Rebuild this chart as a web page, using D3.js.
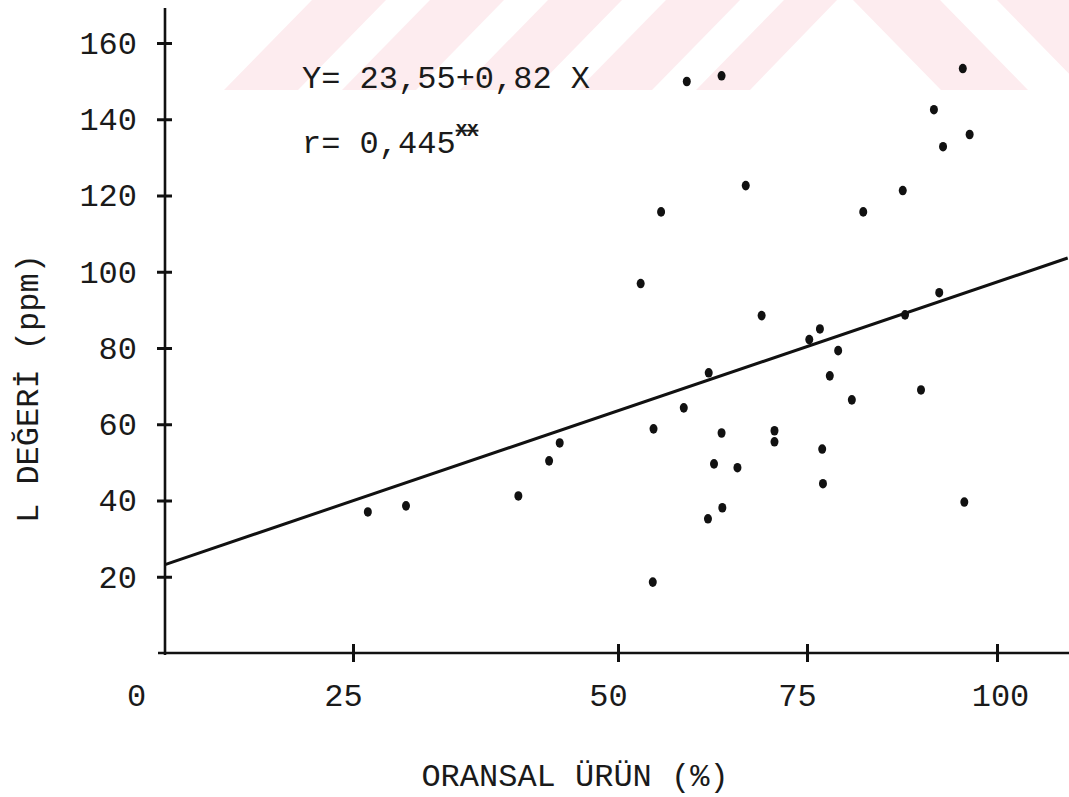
<!DOCTYPE html>
<html>
<head>
<meta charset="utf-8">
<title>L degeri - oransal urun</title>
<script src="https://cdn.jsdelivr.net/npm/d3@7/dist/d3.min.js"></script>
<style>
  body { margin: 0; background: #fff; }
  svg text { font-family: "Liberation Mono", "DejaVu Sans Mono", monospace; fill: #1a1a1a; }
</style>
</head>
<body>
<svg id="chart" width="1069" height="797"></svg>
<script>
// values
var oransalUrun = [26.4, 30.0, 40.6, 43.5, 44.5, 53.0, 54.6, 54.7, 55.7, 58.7,
                   59.1, 61.9, 62.0, 62.7, 63.7, 63.7, 63.8, 65.8, 66.9, 69.0,
                   70.7, 70.7, 75.3, 76.7, 77.0, 77.1, 78.0, 79.1, 80.9, 82.4,
                   87.6, 87.9, 90.0, 91.7, 92.4, 92.9, 95.5, 95.7, 96.4];
var lDegeri    = [37.0, 38.6, 41.2, 50.4, 55.1, 96.9, 18.6, 58.8, 115.7, 64.3,
                   149.9, 35.2, 73.5, 49.6, 151.4, 57.7, 38.1, 48.6, 122.6, 88.5,
                   58.3, 55.4, 82.2, 85.0, 53.5, 44.4, 72.7, 79.3, 66.4, 115.7,
                   121.3, 88.7, 69.0, 142.5, 94.5, 132.8, 153.3, 39.6, 136.0];
var xTicks = [0, 25, 50, 75, 100];
var yTicks = [20, 40, 60, 80, 100, 120, 140, 160];
// regression line as drawn (ends)
var lineX = [0, 109.3];
var lineY = [23.2, 103.6];

var svg = d3.select("#chart");

// faint pink watermark stripes at the top of the page
svg.append("clipPath").attr("id", "wmclip")
  .append("rect").attr("x", 0).attr("y", 0).attr("width", 1069).attr("height", 90);
var wmg = svg.append("g").attr("clip-path", "url(#wmclip)");
var slope = 88 / 90, pink = "#fdecef";
[312, 430, 548, 666, 784].forEach(function(t) {
  var r = Math.min(t + 74, 837);
  var pts = [[t, 0], [r, 0], [r - 90 * slope, 90], [t - 90 * slope, 90]];
  if (t == 784) pts = [[t, 0], [837, 0], [750, 90], [t - 90 * slope, 90]];
  wmg.append("polygon").attr("points", pts.join(" ")).attr("fill", pink);
});
[853, 997].forEach(function(t) {
  var pts = [[t, 0], [t + 87, 0], [t + 87 + 90 * slope, 90], [t + 90 * slope, 90]];
  wmg.append("polygon").attr("points", pts.join(" ")).attr("fill", pink);
});

var x = d3.scaleLinear().domain(xTicks).range([165, 353, 618, 807, 997]);
var y = d3.scaleLinear().domain([0, 160]).range([653, 43]);

// axis lines
svg.append("line").attr("x1", 165).attr("x2", 165).attr("y1", 8).attr("y2", 655)
  .attr("stroke", "#111").attr("stroke-width", 2.6);
svg.append("line").attr("x1", 158).attr("x2", 1069).attr("y1", 653).attr("y2", 653)
  .attr("stroke", "#111").attr("stroke-width", 2.6);

var yAxis = svg.append("g").attr("transform", "translate(165,0)")
  .call(d3.axisLeft(y).tickValues(yTicks).tickSize(0).tickPadding(28));
yAxis.select(".domain").remove();
yAxis.selectAll(".tick text").attr("font-size", 32).attr("dy", "0.32em")
  .attr("font-family", "Liberation Mono");
yAxis.selectAll(".tick").append("line")
  .attr("x1", -8).attr("x2", 7).attr("stroke", "#111").attr("stroke-width", 3);

var xAxis = svg.append("g").attr("transform", "translate(0,653)")
  .call(d3.axisBottom(x).tickValues(xTicks).tickSize(0).tickPadding(30));
xAxis.select(".domain").remove();
xAxis.selectAll(".tick text").attr("font-size", 32).attr("dy", "0.71em")
  .attr("font-family", "Liberation Mono")
  .attr("dx", function(d) { return d == 0 ? -29 : (d == 100 ? 3 : -10); });
xAxis.selectAll(".tick").filter(function(d) { return d > 0; }).append("line")
  .attr("y1", -9).attr("y2", 9).attr("stroke", "#111").attr("stroke-width", 3);

// regression line
svg.append("line")
  .attr("x1", x(lineX[0])).attr("y1", y(lineY[0]))
  .attr("x2", x(lineX[1])).attr("y2", y(lineY[1]))
  .attr("stroke", "#111").attr("stroke-width", 3);

// points
svg.append("g").selectAll("ellipse")
  .data(d3.range(oransalUrun.length))
  .enter().append("ellipse")
  .attr("cx", function(i) { return x(oransalUrun[i]); })
  .attr("cy", function(i) { return y(lDegeri[i]); })
  .attr("rx", 4).attr("ry", 4.8)
  .attr("fill", "#111");

// equation text
svg.append("text").attr("x", 302).attr("y", 88).attr("font-size", 32)
  .text("Y= 23,55+0,82 X");
var rt = svg.append("text").attr("x", 302).attr("y", 153).attr("font-size", 32);
rt.append("tspan").text("r= 0,445");
rt.append("tspan").attr("dy", -17).attr("font-size", 19).attr("font-weight", "bold")
  .attr("text-decoration", "line-through").text("XX");

// axis titles
svg.append("text").attr("x", 575).attr("y", 786).attr("font-size", 32)
  .attr("text-anchor", "middle").text("ORANSAL ÜRÜN (%)");
svg.append("text").attr("transform", "translate(38,523) rotate(-90)")
  .attr("font-size", 32).text("L DEĞERİ (ppm)");
</script>
</body>
</html>
